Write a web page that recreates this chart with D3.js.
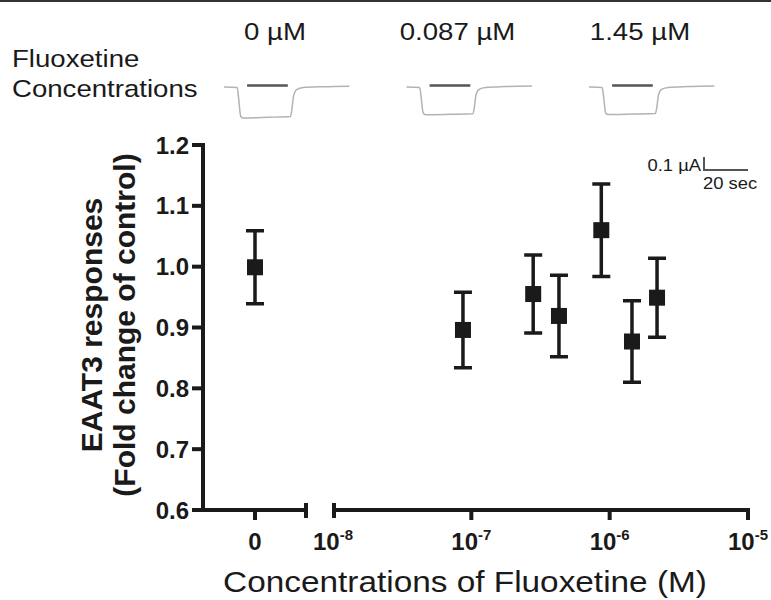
<!DOCTYPE html>
<html>
<head>
<meta charset="utf-8">
<script src="https://cdn.jsdelivr.net/npm/d3@7"></script>
<style>
  body { margin: 0; background: #fff; }
  svg { display: block; font-family: "Liberation Sans", Arial, sans-serif; }
</style>
</head>
<body>
<script>
// data
const yTicks = [0.6, 0.7, 0.8, 0.9, 1.0, 1.1, 1.2];
const xLogTicks = [1e-8, 1e-7, 1e-6, 1e-5];
const concM = [0, 8.7e-8, 2.8e-7, 4.3e-7, 8.7e-7, 1.45e-6, 2.2e-6];
const meanResp = [0.999, 0.896, 0.955, 0.919, 1.06, 0.877, 0.949];
const semResp = [0.06, 0.062, 0.064, 0.067, 0.076, 0.067, 0.065];

// example current traces (sec, µA)
const traceConc = ["0 µM", "0.087 µM", "1.45 µM"];
const traceTime = [0, 6, 6.6, 7.6, 8.6, 20, 30.2, 30.8, 31.6, 33, 36, 45, 57];
const traceCur = [
  [0, -0.004, -0.08, -0.225, -0.238, -0.233, -0.227, -0.18, -0.07, -0.02, -0.004, 0.002, 0.006],
  [0, -0.004, -0.07, -0.2, -0.213, -0.21, -0.206, -0.16, -0.06, -0.018, -0.003, 0.003, 0.007],
  [0, -0.004, -0.07, -0.2, -0.212, -0.208, -0.204, -0.16, -0.06, -0.018, -0.003, 0.003, 0.007],
];
const appBar = [10.5, 29];
const scaleBarSec = 20;
const scaleBarAmp = 0.1;
// ----------

const W = 771, H = 600;
const ink = "#1a1a1a";
const sx = 1.15; // regular text in the figure is wider than Arial

const svg = d3.select("body").append("svg")
  .attr("width", W).attr("height", H);

// top rule
svg.append("line")
  .attr("x1", 0).attr("x2", W).attr("y1", 1).attr("y2", 1)
  .attr("stroke", "#333").attr("stroke-width", 2);

const wideText = (g, x, y, str, size, anchor) =>
  g.append("text")
    .attr("transform", `translate(${x},${y}) scale(${sx},1)`)
    .attr("text-anchor", anchor || "start")
    .attr("font-size", size)
    .attr("fill", ink)
    .text(str);

// ---------- trace panel
wideText(svg, 12, 67, "Fluoxetine", 24);
wideText(svg, 12, 97, "Concentrations", 24);

const labelX = d3.scalePoint().domain(traceConc).range([275, 640]);
const tScale = d3.scaleLinear().domain([0, 57]).range([0, 125.4]);
const iScale = d3.scaleLinear().domain([-0.25, 0]).range([119.5, 87]);

const traceLine = d3.line()
  .x((d) => tScale(d[0]))
  .y((d) => iScale(d[1]))
  .curve(d3.curveMonotoneX);

traceConc.forEach((c, k) => {
  const cx = labelX(c);
  wideText(svg, cx, 40, c, 24, "middle");
  const g = svg.append("g").attr("transform", `translate(${cx - 51},0)`);
  g.append("path")
    .attr("d", traceLine(traceTime.map((t, i) => [t, traceCur[k][i]])))
    .attr("fill", "none")
    .attr("stroke", "#b3b3b3")
    .attr("stroke-width", 1.5);
  g.append("line")
    .attr("x1", tScale(appBar[0])).attr("x2", tScale(appBar[1]))
    .attr("y1", iScale(0.012)).attr("y2", iScale(0.012))
    .attr("stroke", "#555").attr("stroke-width", 2.5);
});

// scale bar
const sb = svg.append("g").attr("transform", "translate(704,170)");
sb.append("path")
  .attr("d", `M0,${iScale(scaleBarAmp) - iScale(0)}V0H${tScale(scaleBarSec) - tScale(0)}`)
  .attr("fill", "none").attr("stroke", "#555").attr("stroke-width", 2);
wideText(sb, -3, 1, "0.1 µA", 16, "end");
wideText(sb, -1, 19, "20 sec", 16);

// ---------- main plot
const yScale = d3.scaleLinear().domain([0.6, 1.2]).range([510, 145]);
const xZero = d3.scaleLinear().domain([-1, 1]).range([203, 307]);
const xLog = d3.scaleLog().domain([1e-8, 1e-5]).range([333, 748]);
const xPos = (c) => (c === 0 ? xZero(0) : xLog(c));

const axes = svg.append("g")
  .attr("stroke", ink).attr("stroke-width", 4).attr("fill", "none");

// y axis
axes.append("line")
  .attr("x1", 203).attr("x2", 203)
  .attr("y1", yScale(1.2) - 2).attr("y2", yScale(0.6) + 2);
axes.selectAll(".ytick").data(yTicks).enter().append("line")
  .attr("x1", 192).attr("x2", 203)
  .attr("y1", (d) => yScale(d)).attr("y2", (d) => yScale(d));

svg.append("g").selectAll("text").data(yTicks).enter().append("text")
  .attr("x", 189).attr("y", (d) => yScale(d) + 8.5)
  .attr("text-anchor", "end")
  .attr("font-size", 24).attr("font-weight", "bold").attr("fill", ink)
  .text((d) => d.toFixed(1));

// x axis, left (zero) segment with break
const y0 = yScale(0.6);
axes.append("line")
  .attr("x1", xZero.range()[0]).attr("x2", xZero.range()[1])
  .attr("y1", y0).attr("y2", y0);
axes.append("line")
  .attr("x1", xZero.range()[1] - 1).attr("x2", xZero.range()[1] - 1)
  .attr("y1", y0 - 7).attr("y2", y0 + 8);
axes.append("line")
  .attr("x1", xZero(0)).attr("x2", xZero(0))
  .attr("y1", y0).attr("y2", y0 + 10);

// x axis, log segment
axes.append("line")
  .attr("x1", xLog.range()[0]).attr("x2", xLog.range()[1] + 2)
  .attr("y1", y0).attr("y2", y0);
axes.append("line")
  .attr("x1", xLog.range()[0] + 1).attr("x2", xLog.range()[0] + 1)
  .attr("y1", y0 - 7).attr("y2", y0 + 8);
axes.selectAll(".xtick").data(xLogTicks.slice(1)).enter().append("line")
  .attr("x1", (d) => xLog(d)).attr("x2", (d) => xLog(d))
  .attr("y1", y0).attr("y2", y0 + 10);

svg.append("text")
  .attr("x", xZero(0)).attr("y", 550)
  .attr("text-anchor", "middle")
  .attr("font-size", 24).attr("font-weight", "bold").attr("fill", ink)
  .text("0");

const xl = svg.append("g").selectAll("text").data(xLogTicks).enter().append("text")
  .attr("x", (d) => xLog(d)).attr("y", 550)
  .attr("text-anchor", "middle")
  .attr("font-size", 24).attr("font-weight", "bold").attr("fill", ink);
xl.append("tspan").text("10");
xl.append("tspan")
  .attr("font-size", 15).attr("dy", -10)
  .text((d) => Math.round(Math.log10(d)));

// error bars + markers
const pts = svg.append("g");
const pd = concM.map((c, i) => ({ c, m: meanResp[i], s: semResp[i] }));
pts.selectAll(".eb").data(pd).enter().append("path")
  .attr("d", (d) => {
    const x = xPos(d.c), t = yScale(d.m + d.s), b = yScale(d.m - d.s);
    return `M${x},${t}V${b}M${x - 9},${t}H${x + 9}M${x - 9},${b}H${x + 9}`;
  })
  .attr("fill", "none").attr("stroke", ink).attr("stroke-width", 3.5);
pts.selectAll("rect").data(pd).enter().append("rect")
  .attr("x", (d) => xPos(d.c) - 8).attr("y", (d) => yScale(d.m) - 8)
  .attr("width", 16).attr("height", 16)
  .attr("fill", ink);

// axis titles
const yt = svg.append("text")
  .attr("transform", "translate(102,325) rotate(-90)")
  .attr("text-anchor", "middle")
  .attr("font-size", 30).attr("font-weight", "bold").attr("fill", ink);
yt.append("tspan").attr("x", 0).attr("y", 0).text("EAAT3 responses");
yt.append("tspan").attr("x", 0).attr("y", 33).text("(Fold change of control)");

wideText(svg, 465, 592, "Concentrations of Fluoxetine (M)", 29, "middle");
</script>
</body>
</html>
